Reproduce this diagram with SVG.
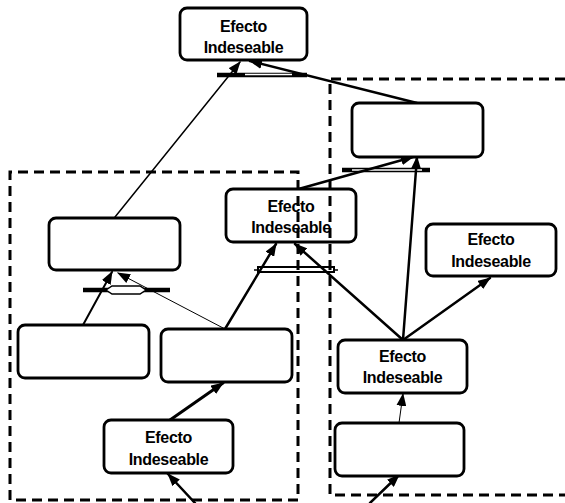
<svg xmlns="http://www.w3.org/2000/svg" width="565" height="503" viewBox="0 0 565 503">
  <style>
    .box { fill: #fff; stroke: #000; stroke-width: 2.8; }
    .lbl { font-family: "Liberation Sans", Arial, sans-serif; font-size: 16px; font-weight: bold; text-anchor: middle; fill: #000; letter-spacing: -0.3px; }
    .c { fill: none; stroke: #000; stroke-linecap: round; marker-end: url(#ah); }
    .frame { fill: none; stroke: #000; stroke-width: 3; stroke-dasharray: 10 6; }
    .bar { stroke: #000; stroke-width: 4.5; }
    .barIn { stroke: #fff; stroke-width: 1.5; }
  </style>
  <defs>
    <marker id="ah" markerUnits="userSpaceOnUse" markerWidth="13" markerHeight="10" refX="12" refY="5" orient="auto">
      <path d="M0,0 L13,5 L0,10 Z" fill="#000"/>
    </marker>
  </defs>

  <!-- AND junction bars -->
  <g id="and-top">
    <line class="bar" x1="217" y1="75" x2="307" y2="75"/>
    <line class="barIn" x1="245" y1="74.5" x2="292" y2="74.5"/>
  </g>
  <g id="and-left">
    <line class="bar" x1="83" y1="290" x2="170" y2="290"/>
    <path d="M106,290 L112,286 L140,286 L146,290 L140,294 L112,294 Z" fill="#fff" stroke="#000" stroke-width="1.5"/>
  </g>
  <g id="and-mid">
    <line x1="254" y1="270" x2="338" y2="270" stroke="#000" stroke-width="1.5"/>
    <rect x="258" y="267" width="76" height="5" fill="#fff" stroke="#000" stroke-width="2"/>
  </g>
  <g id="and-right">
    <line class="bar" x1="342" y1="170" x2="430" y2="170"/>
    <line class="barIn" x1="352" y1="170" x2="422" y2="170"/>
  </g>

  <!-- connectors -->
  <g id="connectors">
    <line class="c" stroke-width="1.5" x1="115" y1="217" x2="240" y2="62"/>
    <line class="c" stroke-width="2.5" x1="417" y1="103" x2="250" y2="61"/>
    <line class="c" stroke-width="2.5" x1="295" y1="190" x2="413" y2="157"/>
    <line class="c" stroke-width="2.5" x1="403" y1="340" x2="417" y2="157"/>
    <line class="c" stroke-width="2.5" x1="403" y1="340" x2="295" y2="244"/>
    <line class="c" stroke-width="2.5" x1="403" y1="340" x2="490" y2="278"/>
    <line class="c" stroke-width="2.5" x1="225" y1="329" x2="276" y2="244"/>
    <line class="c" stroke-width="1" x1="225" y1="329" x2="118" y2="273"/>
    <line class="c" stroke-width="2" x1="83" y1="325" x2="112" y2="272"/>
    <line class="c" stroke-width="3" x1="170" y1="420" x2="223" y2="383"/>
    <line class="c" stroke-width="2.5" x1="195" y1="503" x2="168" y2="474"/>
    <line class="c" stroke-width="1" x1="399" y1="423" x2="403" y2="394"/>
    <line class="c" stroke-width="2.5" x1="370" y1="503" x2="399" y2="475"/>
  </g>

  <!-- nodes -->
  <g id="n-top">
    <rect class="box" x="180" y="8" width="127" height="52" rx="7"/>
    <text class="lbl" x="243.5" y="32">Efecto</text>
    <text class="lbl" x="243.5" y="53">Indeseable</text>
  </g>
  <g id="n-right-top">
    <rect class="box" x="352" y="103" width="131" height="54" rx="7"/>
  </g>
  <g id="n-mid">
    <rect class="box" x="226" y="189" width="130" height="53" rx="7"/>
    <text class="lbl" x="291" y="212">Efecto</text>
    <text class="lbl" x="291" y="233">Indeseable</text>
  </g>
  <g id="n-left-mid">
    <rect class="box" x="49" y="218" width="131" height="52" rx="7"/>
  </g>
  <g id="n-right-ei">
    <rect class="box" x="426" y="224" width="130" height="52" rx="7"/>
    <text class="lbl" x="491" y="245">Efecto</text>
    <text class="lbl" x="491" y="267">Indeseable</text>
  </g>
  <g id="n-left-a">
    <rect class="box" x="18" y="325" width="131" height="53" rx="7"/>
  </g>
  <g id="n-left-b">
    <rect class="box" x="161" y="329" width="131" height="53" rx="7"/>
  </g>
  <g id="n-bottom-ei">
    <rect class="box" x="104" y="420" width="129" height="53" rx="7"/>
    <text class="lbl" x="168.5" y="443">Efecto</text>
    <text class="lbl" x="168.5" y="465">Indeseable</text>
  </g>
  <g id="n-right-mid-ei">
    <rect class="box" x="338" y="340" width="129" height="53" rx="7"/>
    <text class="lbl" x="402.5" y="362">Efecto</text>
    <text class="lbl" x="402.5" y="383">Indeseable</text>
  </g>
  <g id="n-right-low">
    <rect class="box" x="335" y="423" width="129" height="53" rx="7"/>
  </g>

  <!-- dashed grouping frames -->
  <g id="frames">
    <path class="frame" d="M10,500 V172 H298 V500 Z"/>
    <path class="frame" d="M565,79 H330 V495 H565"/>
  </g>
</svg>
